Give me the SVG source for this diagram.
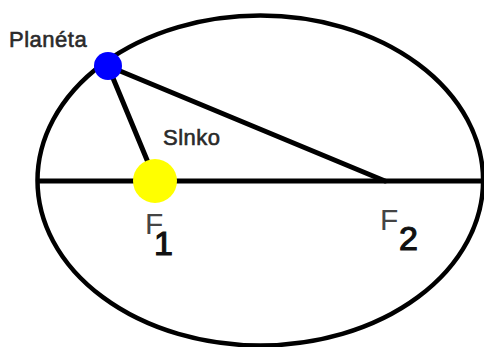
<svg xmlns="http://www.w3.org/2000/svg" width="484" height="347" viewBox="0 0 484 347">
  <style>
    .ln { stroke: #000; stroke-width: 5; fill: none; stroke-linecap: round; }
    .lbl { font-family: "Liberation Sans", Arial, sans-serif; font-size: 22px; letter-spacing: 0.5px; fill: #2a2a2a; stroke: #2a2a2a; stroke-width: 0.6; }
    .f { font-family: "Liberation Sans", Arial, sans-serif; font-size: 30px; fill: #444; }
    .sub { font-family: "Liberation Sans", Arial, sans-serif; font-size: 34px; fill: #111; stroke: #111; stroke-width: 1.2; }
  </style>
  <rect width="484" height="347" fill="#fff"/>
  <g id="orbit">
    <ellipse cx="260.3" cy="180.5" rx="222.8" ry="165" fill="none" stroke="#000" stroke-width="4.5"/>
  </g>
  <g id="connectors">
    <line class="ln" x1="37" y1="181" x2="484" y2="181" stroke-width="6" style="stroke-linecap:butt"/>
    <line class="ln" x1="108" y1="66" x2="152" y2="172"/>
    <line class="ln" x1="108" y1="66" x2="385" y2="181"/>
  </g>
  <g id="sun">
    <circle cx="155" cy="181" r="22" fill="#ffff00"/>
    <text class="lbl" x="163" y="145">Slnko</text>
  </g>
  <g id="planet">
    <circle cx="108" cy="66" r="14" fill="#0000ff"/>
    <text class="lbl" x="9" y="47">Planéta</text>
  </g>
  <g id="f1">
    <text class="f" x="145" y="234">F</text>
    <text class="sub" x="154" y="255">1</text>
  </g>
  <g id="f2">
    <text class="f" x="380" y="230">F</text>
    <text class="sub" x="399" y="250">2</text>
  </g>
</svg>
